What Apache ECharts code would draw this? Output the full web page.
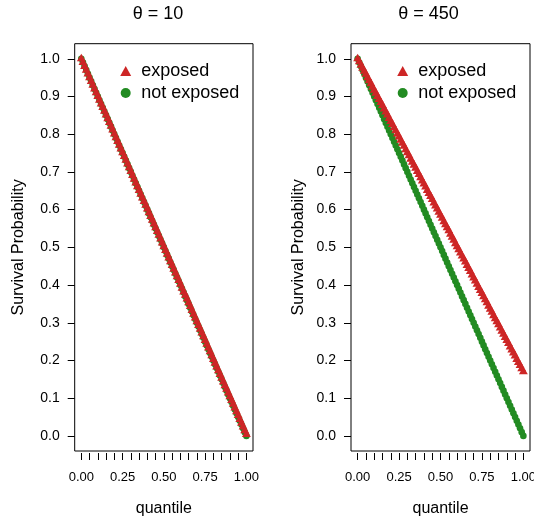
<!DOCTYPE html>
<html>
<head>
<meta charset="utf-8">
<script src="https://cdn.jsdelivr.net/npm/echarts@6/dist/echarts.min.js"></script>
<style>
html,body{margin:0;padding:0;background:#fff;}
#chart{width:534px;height:519px;}
</style>
</head>
<body>
<div id="chart"></div>
<script>
// ---- data ----
var panelTitles = ['θ = 10', 'θ = 450'];
var seriesNames = ['exposed', 'not exposed'];
var quantile = [0.00,0.01,0.02,0.03,0.04,0.05,0.06,0.07,0.08,0.09,0.10,0.11,0.12,0.13,0.14,0.15,0.16,0.17,0.18,0.19,0.20,0.21,0.22,0.23,0.24,0.25,0.26,0.27,0.28,0.29,0.30,0.31,0.32,0.33,0.34,0.35,0.36,0.37,0.38,0.39,0.40,0.41,0.42,0.43,0.44,0.45,0.46,0.47,0.48,0.49,0.50,0.51,0.52,0.53,0.54,0.55,0.56,0.57,0.58,0.59,0.60,0.61,0.62,0.63,0.64,0.65,0.66,0.67,0.68,0.69,0.70,0.71,0.72,0.73,0.74,0.75,0.76,0.77,0.78,0.79,0.80,0.81,0.82,0.83,0.84,0.85,0.86,0.87,0.88,0.89,0.90,0.91,0.92,0.93,0.94,0.95,0.96,0.97,0.98,0.99,1.00];
var notExposed10 = [1.00,0.99,0.98,0.97,0.96,0.95,0.94,0.93,0.92,0.91,0.90,0.89,0.88,0.87,0.86,0.85,0.84,0.83,0.82,0.81,0.80,0.79,0.78,0.77,0.76,0.75,0.74,0.73,0.72,0.71,0.70,0.69,0.68,0.67,0.66,0.65,0.64,0.63,0.62,0.61,0.60,0.59,0.58,0.57,0.56,0.55,0.54,0.53,0.52,0.51,0.50,0.49,0.48,0.47,0.46,0.45,0.44,0.43,0.42,0.41,0.40,0.39,0.38,0.37,0.36,0.35,0.34,0.33,0.32,0.31,0.30,0.29,0.28,0.27,0.26,0.25,0.24,0.23,0.22,0.21,0.20,0.19,0.18,0.17,0.16,0.15,0.14,0.13,0.12,0.11,0.10,0.09,0.08,0.07,0.06,0.05,0.04,0.03,0.02,0.01,0.00];
var exposed10 = [1.00,0.99,0.98,0.97,0.96,0.95,0.94,0.93,0.92,0.91,0.90,0.89,0.88,0.871,0.861,0.851,0.841,0.831,0.821,0.811,0.801,0.791,0.781,0.771,0.761,0.751,0.741,0.731,0.721,0.711,0.701,0.691,0.681,0.671,0.661,0.651,0.641,0.631,0.622,0.612,0.602,0.592,0.582,0.572,0.562,0.552,0.542,0.532,0.522,0.512,0.502,0.492,0.482,0.472,0.462,0.452,0.442,0.432,0.422,0.412,0.402,0.392,0.382,0.373,0.363,0.353,0.343,0.333,0.323,0.313,0.303,0.293,0.283,0.273,0.263,0.253,0.243,0.233,0.223,0.213,0.203,0.193,0.183,0.173,0.163,0.153,0.143,0.133,0.124,0.114,0.104,0.094,0.084,0.074,0.064,0.054,0.044,0.034,0.024,0.014,0.004];
var notExposed450 = [1.00,0.99,0.98,0.97,0.96,0.95,0.94,0.93,0.92,0.91,0.90,0.89,0.88,0.87,0.86,0.85,0.84,0.83,0.82,0.81,0.80,0.79,0.78,0.77,0.76,0.75,0.74,0.73,0.72,0.71,0.70,0.69,0.68,0.67,0.66,0.65,0.64,0.63,0.62,0.61,0.60,0.59,0.58,0.57,0.56,0.55,0.54,0.53,0.52,0.51,0.50,0.49,0.48,0.47,0.46,0.45,0.44,0.43,0.42,0.41,0.40,0.39,0.38,0.37,0.36,0.35,0.34,0.33,0.32,0.31,0.30,0.29,0.28,0.27,0.26,0.25,0.24,0.23,0.22,0.21,0.20,0.19,0.18,0.17,0.16,0.15,0.14,0.13,0.12,0.11,0.10,0.09,0.08,0.07,0.06,0.05,0.04,0.03,0.02,0.01,0.00];
var exposed450 = [1.000,0.992,0.983,0.975,0.967,0.959,0.950,0.942,0.934,0.925,0.917,0.909,0.900,0.892,0.884,0.876,0.867,0.859,0.851,0.842,0.834,0.826,0.817,0.809,0.801,0.793,0.784,0.776,0.768,0.759,0.751,0.743,0.734,0.726,0.718,0.710,0.701,0.693,0.685,0.676,0.668,0.660,0.651,0.643,0.635,0.627,0.618,0.610,0.602,0.593,0.585,0.577,0.568,0.560,0.552,0.544,0.535,0.527,0.519,0.510,0.502,0.494,0.485,0.477,0.469,0.461,0.452,0.444,0.436,0.427,0.419,0.411,0.402,0.394,0.386,0.378,0.369,0.361,0.353,0.344,0.336,0.328,0.319,0.311,0.303,0.295,0.286,0.278,0.270,0.261,0.253,0.245,0.236,0.228,0.220,0.212,0.203,0.195,0.187,0.178,0.170];
var xTickValues = [0,0.05,0.10,0.15,0.20,0.25,0.30,0.35,0.40,0.45,0.50,0.55,0.60,0.65,0.70,0.75,0.80,0.85,0.90,0.95,1.00];
var xLabelValues = [0,0.25,0.5,0.75,1];
var yTickValues = [0,0.1,0.2,0.3,0.4,0.5,0.6,0.7,0.8,0.9,1.0];

// ---- chart ----
var FONT = 'Liberation Sans, Arial, Helvetica, sans-serif';
var RED = '#CD2626', GREEN = '#228B22';
// R-style point geometry (pch 16 circle / pch 17 triangle, area-matched)
var PR = 3.3;
var CIRCLE_SIZE = 2 * PR;
var TRI_SIZE = [2.69 * PR, 2.33 * PR];
var TRI_OFFSET = [0, -0.39 * PR];

function pairs(xs, ys) {
  var out = [];
  for (var i = 0; i < xs.length && i < ys.length; i++) out.push([xs[i], ys[i]]);
  return out;
}

var grids = [
  {left: 74.7, top: 43.7, width: 178.3, height: 407.3},
  {left: 351, top: 43.7, width: 179, height: 407.3}
];
grids.forEach(function (g) {
  g.show = true; g.borderColor = '#000'; g.borderWidth = 1; g.backgroundColor = 'transparent';
  g.containLabel = false; g.outerBoundsMode = 'none';
});

function makeX(idx) {
  return {
    type: 'value', gridIndex: idx, min: -0.04, max: 1.04, offset: 2, position: 'bottom',
    axisLine: {show: false, onZero: false},
    splitLine: {show: false},
    axisTick: {show: true, inside: false, customValues: xTickValues, length: 7, lineStyle: {color: '#000', width: 1}},
    axisLabel: {show: true, inside: false, customValues: xLabelValues, formatter: function (v) { return Number(v).toFixed(2); },
      fontSize: 13, color: '#000', fontFamily: FONT, margin: 18, hideOverlap: false},
    name: 'quantile', nameLocation: 'middle', nameGap: 48,
    nameTextStyle: {fontSize: 16, color: '#000', fontFamily: FONT}
  };
}
function makeY(idx, gap) {
  return {
    type: 'value', gridIndex: idx, min: -0.04, max: 1.04, position: 'left',
    axisLine: {show: false, onZero: false},
    splitLine: {show: false},
    axisTick: {show: true, inside: false, customValues: yTickValues, length: 7, lineStyle: {color: '#000', width: 1}},
    axisLabel: {show: true, inside: false, customValues: yTickValues, formatter: function (v) { return Number(v).toFixed(1); },
      fontSize: 14, color: '#000', fontFamily: FONT, margin: 15, hideOverlap: false},
    name: 'Survival Probability', nameLocation: 'middle', nameGap: gap,
    nameTextStyle: {fontSize: 16, color: '#000', fontFamily: FONT}
  };
}

function legendFor(left) {
  return {
    orient: 'vertical', left: left, top: 62, padding: 0,
    itemWidth: 11, itemHeight: 10, itemGap: 4,
    selectedMode: false,
    textStyle: {fontSize: 18, color: '#000', fontFamily: FONT, padding: [0, 0, 0, 5], lineHeight: 18},
    data: [
      {name: seriesNames[0], icon: 'triangle'},
      {name: seriesNames[1], icon: 'circle'}
    ]
  };
}

function scatter(name, xi, ys, isTri) {
  return {
    name: name, type: 'scatter', xAxisIndex: xi, yAxisIndex: xi,
    symbol: isTri ? 'triangle' : 'circle',
    symbolSize: isTri ? TRI_SIZE : CIRCLE_SIZE,
    symbolOffset: isTri ? TRI_OFFSET : [0, 0],
    itemStyle: {color: isTri ? RED : GREEN, opacity: 1},
    z: isTri ? 3 : 2,
    data: pairs(quantile, ys)
  };
}

var option = {
  backgroundColor: '#fff',
  animation: false,
  title: [
    {text: panelTitles[0], left: 132.7, top: 5, padding: 0, textStyle: {fontSize: 18, fontWeight: 'normal', color: '#000', fontFamily: FONT}},
    {text: panelTitles[1], left: 398.3, top: 5, padding: 0, textStyle: {fontSize: 18, fontWeight: 'normal', color: '#000', fontFamily: FONT}}
  ],
  legend: [legendFor(120.2), legendFor(397.2)],
  grid: grids,
  xAxis: [makeX(0), makeX(1)],
  yAxis: [makeY(0, 48), makeY(1, 44)],
  series: [
    scatter(seriesNames[1], 0, notExposed10, false),
    scatter(seriesNames[0], 0, exposed10, true),
    scatter(seriesNames[1], 1, notExposed450, false),
    scatter(seriesNames[0], 1, exposed450, true)
  ]
};

var chart = echarts.init(document.getElementById('chart'), null, {renderer: 'canvas'});
chart.setOption(option);
</script>
</body>
</html>
